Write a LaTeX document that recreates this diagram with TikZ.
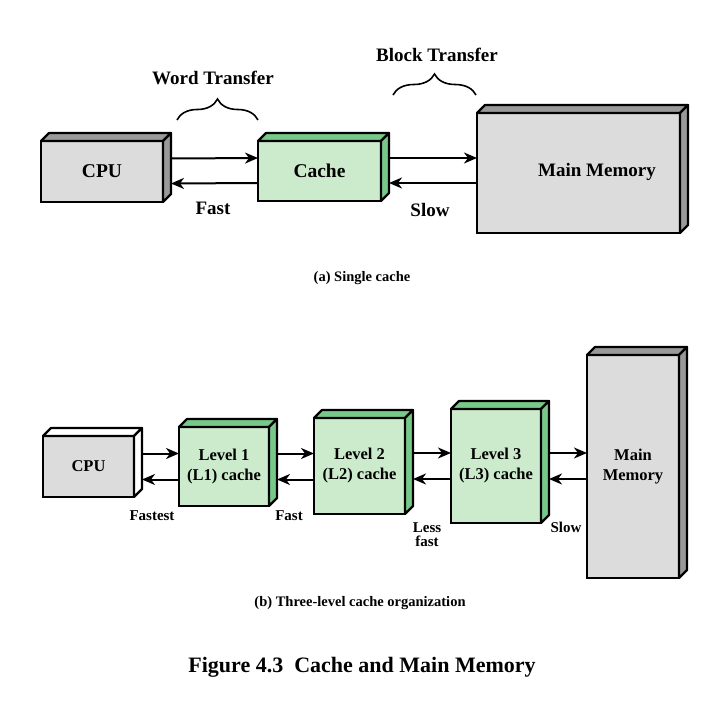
\documentclass[tikz,border=0pt]{standalone}
\usepackage{fontspec}
\setmainfont{Liberation Serif}
\usetikzlibrary{arrows.meta}
\usetikzlibrary{decorations.pathreplacing}

\definecolor{unitgray}{HTML}{DCDCDC}
\definecolor{sidegray}{HTML}{999999}
\definecolor{unitgreen}{HTML}{CCEBCC}
\definecolor{sidegreen}{HTML}{77C98A}

\tikzset{
  unit/.style={draw, line width=2.2pt, inner sep=0pt, outer sep=0pt, align=center},
  bigunit/.style={unit, font=\bfseries\fontsize{19.5}{22}\selectfont},
  smallunit/.style={unit, font=\bfseries\fontsize{16.5}{20}\selectfont},
  arr/.style={-{Stealth[length=13pt, width=11pt, inset=4pt]}, line width=2pt},
  bigtag/.style={font=\bfseries\fontsize{19}{22}\selectfont},
  smalltag/.style={font=\bfseries\fontsize{15}{14}\selectfont, align=center, inner sep=1pt},
  caption/.style={font=\bfseries\fontsize{14.5}{16}\selectfont},
  bracket/.style={decorate, decoration={brace, amplitude=21pt}, line width=1.6pt},
}

% top and right faces of a unit: name, top colour, side colour
\newcommand{\unitsides}[3]{%
  \draw[line width=2.2pt, line join=round, fill=#2] (#1.north west) -- ++(8,-8)
    -- ([shift={(8,-8)}]#1.north east) -- (#1.north east) -- cycle;
  \draw[line width=2.2pt, line join=round, fill=#3] (#1.north east) -- ++(8,-8)
    -- ([shift={(8,-8)}]#1.south east) -- (#1.south east) -- cycle;
}

\begin{document}
\begin{tikzpicture}[x=1pt, y=-1pt]
\useasboundingbox[fill=white] (0,0) rectangle (726,713);

% (a) single cache
\node[bigunit, fill=unitgray, minimum width=122, minimum height=61] (cpu) at (102,171.5) {CPU};
\node[bigunit, fill=unitgreen, minimum width=123, minimum height=60] (cache) at (319.5,171) {Cache};
\node[bigunit, fill=unitgray, minimum width=203, minimum height=120] (mem) at (578.5,173) {};
\unitsides{cpu}{sidegray}{sidegray}
\unitsides{cache}{sidegreen}{sidegreen}
\unitsides{mem}{sidegray}{sidegray}
\node[bigtag] (memlabel) at (597,172) {Main Memory};

\draw[arr] ([xshift=8pt,yshift=13pt]cpu.east) -- ([yshift=13pt]cache.west);
\draw[arr] ([yshift=-12pt]cache.west) -- ([xshift=8pt,yshift=-12pt]cpu.east);
\draw[arr] ([xshift=8pt,yshift=13pt]cache.east) -- ([yshift=13pt]cache.east -| mem.west);
\draw[arr] ([yshift=-12pt]cache.east -| mem.west) -- ([xshift=8pt,yshift=-12pt]cache.east);

\node[bigtag] (fasttop) at (213,208) {Fast};
\node[bigtag] (slowtop) at (430,210) {Slow};

\coordinate (wordL) at (177,120);
\coordinate (wordR) at (258,120);
\coordinate (blockL) at (393,95);
\coordinate (blockR) at (476,95);
\draw[bracket] (wordL) -- (wordR);
\draw[bracket] (blockL) -- (blockR);
\node[bigtag] (word) at (213,78) {Word Transfer};
\node[bigtag] (block) at (437,55) {Block Transfer};

\node[caption] (capa) at (362,278) {(a) Single cache};

% (b) three-level cache
\node[smallunit, fill=unitgray, minimum width=91, minimum height=61] (cpub) at (88.5,466.5) {CPU};
\node[smallunit, fill=unitgreen, minimum width=90, minimum height=79] (lone) at (224,466.5) {Level 1\\(L1) cache};
\node[smallunit, fill=unitgreen, minimum width=91, minimum height=96] (ltwo) at (359.5,466) {Level 2\\(L2) cache};
\node[smallunit, fill=unitgreen, minimum width=90, minimum height=114] (lthree) at (496,466) {Level 3\\(L3) cache};
\node[smallunit, fill=unitgray, minimum width=92, minimum height=223] (memb) at (633,466.5) {Main\\Memory};
\unitsides{cpub}{white}{white}
\unitsides{lone}{sidegreen}{sidegreen}
\unitsides{ltwo}{sidegreen}{sidegreen}
\unitsides{lthree}{sidegreen}{sidegreen}
\unitsides{memb}{sidegray}{sidegray}

\draw[arr] ([xshift=8pt,yshift=13pt]cpub.east) -- ([yshift=13pt]cpub.east -| lone.west);
\draw[arr] ([yshift=-13pt]cpub.east -| lone.west) -- ([xshift=8pt,yshift=-13pt]cpub.east);
\draw[arr] ([xshift=8pt,yshift=13pt]lone.east) -- ([yshift=13pt]lone.east -| ltwo.west);
\draw[arr] ([yshift=-13pt]lone.east -| ltwo.west) -- ([xshift=8pt,yshift=-13pt]lone.east);
\draw[arr] ([xshift=8pt,yshift=13pt]ltwo.east) -- ([yshift=13pt]ltwo.east -| lthree.west);
\draw[arr] ([yshift=-13pt]ltwo.east -| lthree.west) -- ([xshift=8pt,yshift=-13pt]ltwo.east);
\draw[arr] ([xshift=8pt,yshift=13pt]lthree.east) -- ([yshift=13pt]lthree.east -| memb.west);
\draw[arr] ([yshift=-13pt]lthree.east -| memb.west) -- ([xshift=8pt,yshift=-13pt]lthree.east);

\node[smalltag] (fastest) at (152,516) {Fastest};
\node[smalltag] (fastb) at (289,516) {Fast};
\node[smalltag] (lessfast) at (427,535) {Less\\fast};
\node[smalltag] (slowb) at (566,527) {Slow};

\node[caption] (capb) at (360,603) {(b) Three-level cache organization};
\node[font=\bfseries\fontsize{22}{24}\selectfont] (title) at (362,667) {Figure 4.3\ \ Cache and Main Memory};
\end{tikzpicture}
\end{document}
